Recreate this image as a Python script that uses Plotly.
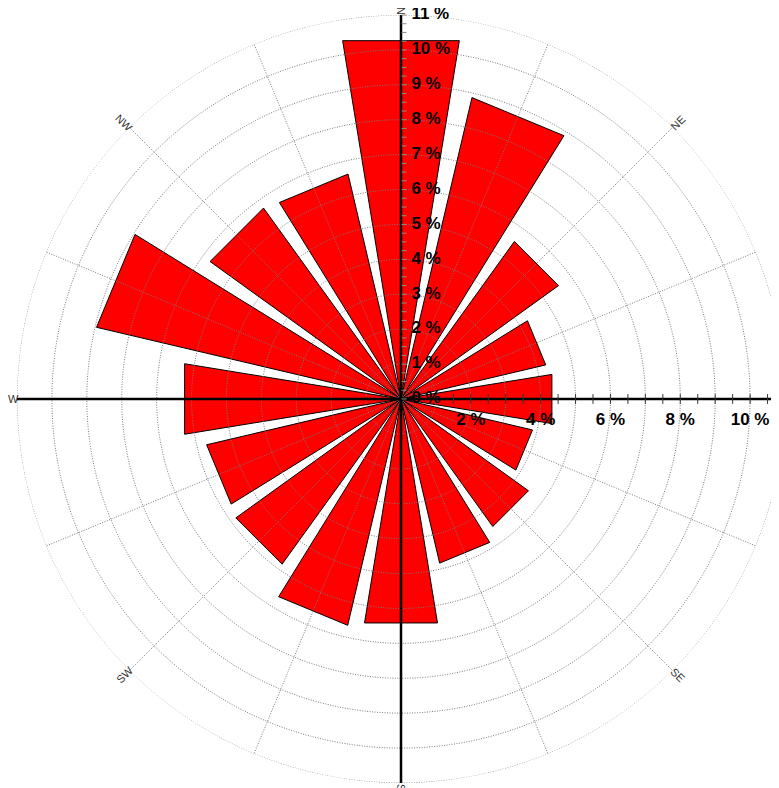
import numpy as np
import plotly.graph_objects as go

# ---- data ----
directions = ["N", "NNE", "NE", "ENE", "E", "ESE", "SE", "SSE",
              "S", "SSW", "SW", "WSW", "W", "WNW", "NW", "NNW"]
bearings = [i * 22.5 for i in range(16)]
freq_pct = [10.4, 8.87, 5.56, 4.26, 4.38, 3.87, 4.5, 4.83,
            6.5, 6.66, 5.83, 5.72, 6.28, 8.96, 6.74, 6.62]
radial_ticks = list(range(0, 12))
radial_tick_labels = [f"{v} %" for v in radial_ticks]
east_ticks = [2, 4, 6, 8, 10]
east_tick_labels = [f"{v} %" for v in east_ticks]
compass_labels = ["N", "NE", "E", "SE", "S", "SW", "W", "NW"]
compass_bearings = [0, 45, 90, 135, 180, 225, 270, 315]
compass_angles = [90, -45, 0, 45, 90, -45, 0, 45]

# ---- geometry (figure pixels) ----
W, H = 779, 788
CX, CY, RPX = 393, 391, 384
dom_x = [(CX - RPX) / W, (CX + RPX) / W]
dom_y = [(H - CY - RPX) / H, (H - CY + RPX) / H]
OUTER = 11
HALF = 9.25

fig = go.Figure()

# bars (wedges with straight outer edge)
br, bt = [], []
for b, v in zip(bearings, freq_pct):
    br += [0, v, v, 0, None]
    bt += [b, b - HALF, b + HALF, b, None]
fig.add_trace(go.Scatterpolar(r=br, theta=bt, mode="lines", fill="toself",
                              fillcolor="#FF0000",
                              line=dict(color="black", width=1),
                              hoverinfo="skip", showlegend=False))

# grid circles and spokes (drawn above the bars)
gr, gt = [], []
ang = np.arange(0, 361, 1.0)
for k in range(1, OUTER + 1):
    gr += [k] * len(ang) + [None]
    gt += list(ang) + [None]
for k in range(16):
    a = k * 22.5
    if a % 90 == 0:
        continue
    gr += [0, OUTER, None]
    gt += [a, a, None]
fig.add_trace(go.Scatterpolar(r=gr, theta=gt, mode="lines",
                              line=dict(color="#7a7a7a", width=1, dash="1px,1.5px"),
                              cliponaxis=False, hoverinfo="skip",
                              showlegend=False))

# main axes lines
fig.add_trace(go.Scatterpolar(r=[OUTER, OUTER, None, OUTER, OUTER],
                              theta=[0, 180, None, 90, 270], mode="lines",
                              line=dict(color="black", width=2.5),
                              cliponaxis=False, hoverinfo="skip",
                              showlegend=False))

# east axis small ticks
et = [x / 2 for x in range(1, 22)]
fig.add_trace(go.Scatterpolar(r=et, theta=[90] * len(et), mode="markers",
                              marker=dict(symbol="line-ns", size=7,
                                          line=dict(color="#333333", width=1)),
                              cliponaxis=False, hoverinfo="skip",
                              showlegend=False))

# north axis tick labels
fig.add_trace(go.Scatterpolar(r=radial_ticks, theta=[0] * len(radial_ticks),
                              mode="markers+text", text=radial_tick_labels,
                              textposition="middle right",
                              marker=dict(size=15, color="rgba(0,0,0,0)"),
                              textfont=dict(family="Liberation Sans, Arial",
                                            size=17, color="black", weight="bold"),
                              cliponaxis=False, hoverinfo="skip",
                              showlegend=False))

# east axis tick labels
fig.add_trace(go.Scatterpolar(r=east_ticks, theta=[90] * len(east_ticks),
                              mode="markers+text", text=east_tick_labels,
                              textposition="bottom center",
                              marker=dict(size=20, color="rgba(0,0,0,0)"),
                              textfont=dict(family="Liberation Sans, Arial",
                                            size=17, color="black", weight="bold"),
                              cliponaxis=False, hoverinfo="skip",
                              showlegend=False))

# compass labels
for lab, b, ta in zip(compass_labels, compass_bearings, compass_angles):
    lbl_r = 388 if b % 90 == 0 else 391
    rad = np.deg2rad(b)
    px = CX + lbl_r * np.sin(rad)
    py = CY - lbl_r * np.cos(rad)
    fig.add_annotation(x=px / W, y=1 - py / H, xref="paper", yref="paper",
                       text=lab, showarrow=False, textangle=ta,
                       xanchor="center", yanchor="middle",
                       font=dict(family="Liberation Sans, Arial", size=11,
                                 color="#333333"))

fig.update_layout(
    width=W, height=H, autosize=False,
    margin=dict(l=0, r=0, t=0, b=0),
    paper_bgcolor="white",
    showlegend=False,
    polar=dict(
        domain=dict(x=dom_x, y=dom_y),
        bgcolor="rgba(0,0,0,0)",
        radialaxis=dict(range=[0, OUTER], angle=90, side="clockwise",
                        showgrid=False, showline=False,
                        showticklabels=False, ticks="outside", dtick=0.25,
                        ticklen=5, tickcolor="#8c8c8c", tickwidth=1,
                        layer="above traces"),
        angularaxis=dict(rotation=90, direction="clockwise",
                         showgrid=False, showline=False,
                         showticklabels=False, ticks=""),
    ),
)

fig.write_html("out.html")
